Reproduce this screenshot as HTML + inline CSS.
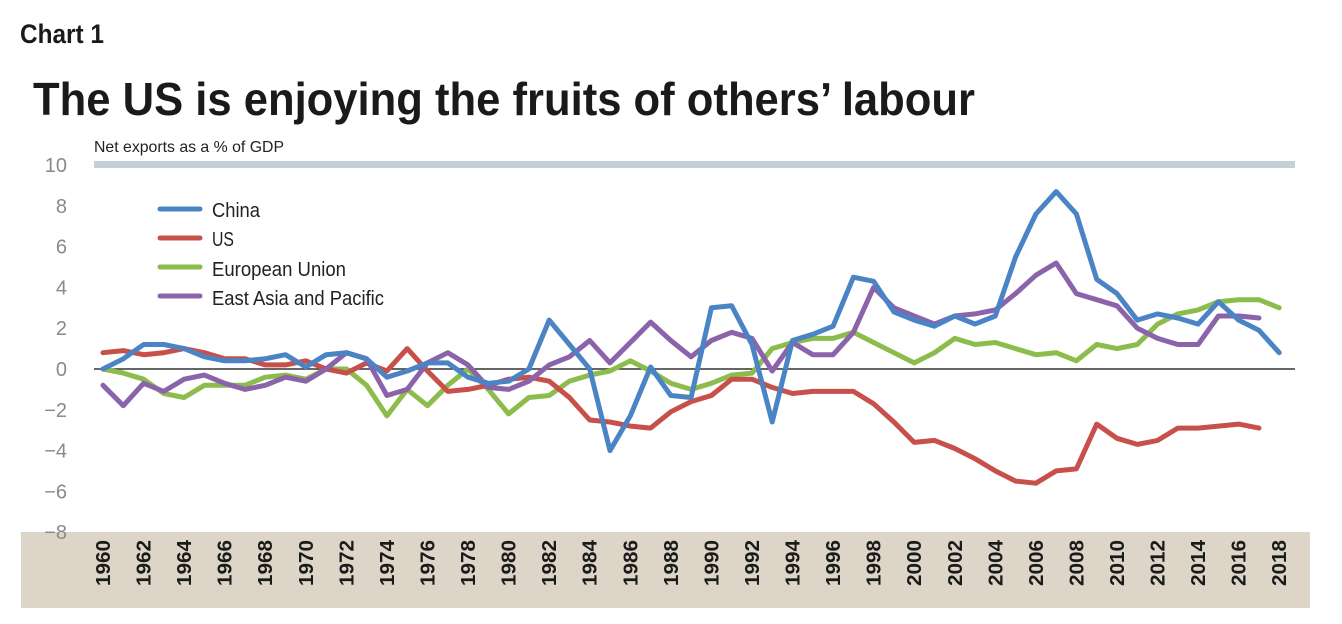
<!DOCTYPE html>
<html><head><meta charset="utf-8"><style>
html,body{margin:0;padding:0;background:#fff;}
svg{display:block;}
</style></head><body>
<svg id="c" width="1342" height="624" xmlns="http://www.w3.org/2000/svg" font-family="'Liberation Sans', sans-serif">
<text x="20" y="43" font-size="27" font-weight="bold" fill="#1a1a1a" textLength="84" lengthAdjust="spacingAndGlyphs">Chart 1</text>
<text x="33" y="115" font-size="46" font-weight="bold" fill="#1a1a1a" textLength="942" lengthAdjust="spacingAndGlyphs">The US is enjoying the fruits of others’ labour</text>
<text x="94" y="152" font-size="16" fill="#222" textLength="190" lengthAdjust="spacingAndGlyphs">Net exports as a % of GDP</text>
<rect x="94" y="161" width="1201" height="7" fill="#c3d0d8"/>
<rect x="21" y="532" width="1289" height="76" fill="#ddd5c7"/>
<line x1="94" y1="369" x2="1295" y2="369" stroke="#333" stroke-width="1.5"/>
<g id="yl" font-size="20" fill="#8a8a8a" text-anchor="end"></g>
<g id="xl" font-size="20" font-weight="bold" fill="#1a1a1a"></g>
<g id="series" fill="none" stroke-width="5" stroke-linejoin="round" stroke-linecap="round"></g>
<g font-size="20" fill="#222">
<line x1="160" y1="209" x2="200" y2="209" stroke="#4a84c4" stroke-width="5" stroke-linecap="round"/>
<text x="212" y="217" textLength="48" lengthAdjust="spacingAndGlyphs">China</text>
<line x1="160" y1="238" x2="200" y2="238" stroke="#c8504b" stroke-width="5" stroke-linecap="round"/>
<text x="212" y="246" textLength="22" lengthAdjust="spacingAndGlyphs">US</text>
<line x1="160" y1="267" x2="200" y2="267" stroke="#8cbc4c" stroke-width="5" stroke-linecap="round"/>
<text x="212" y="276" textLength="134" lengthAdjust="spacingAndGlyphs">European Union</text>
<line x1="160" y1="296" x2="200" y2="296" stroke="#8a63ab" stroke-width="5" stroke-linecap="round"/>
<text x="212" y="305" textLength="172" lengthAdjust="spacingAndGlyphs">East Asia and Pacific</text>
</g>
</svg>
<script>
(function(){
var NS="http://www.w3.org/2000/svg";
function X(yr){return 103+(yr-1960)*20.28;}
function Y(v){return 369-v*20.39;}
var yl=document.getElementById('yl');
for(var v=10;v>=-8;v-=2){var t=document.createElementNS(NS,'text');t.setAttribute('x',67);t.setAttribute('y',Y(v)+7);t.textContent=(v<0?'\u2212'+(-v):v);yl.appendChild(t);}
var xl=document.getElementById('xl');
for(var yr=1960;yr<=2018;yr+=2){var t=document.createElementNS(NS,'text');var x=X(yr)+7;t.setAttribute('transform','translate('+x+',586) rotate(-90)');t.setAttribute('textLength','46');t.setAttribute('lengthAdjust','spacingAndGlyphs');t.textContent=yr;xl.appendChild(t);}
var data={
"#8cbc4c":[0,-0.2,-0.5,-1.2,-1.4,-0.8,-0.8,-0.8,-0.4,-0.3,-0.5,0,0,-0.8,-2.3,-1.0,-1.8,-0.8,0,-1.0,-2.2,-1.4,-1.3,-0.6,-0.3,-0.1,0.4,-0.1,-0.7,-1.0,-0.7,-0.3,-0.2,1.0,1.3,1.5,1.5,1.8,1.3,0.8,0.3,0.8,1.5,1.2,1.3,1.0,0.7,0.8,0.4,1.2,1.0,1.2,2.2,2.7,2.9,3.3,3.4,3.4,3.0],
"#8a63ab":[-0.8,-1.8,-0.7,-1.1,-0.5,-0.3,-0.7,-1.0,-0.8,-0.4,-0.6,0,0.8,0.5,-1.3,-1.0,0.3,0.8,0.2,-0.9,-1.0,-0.6,0.2,0.6,1.4,0.3,1.3,2.3,1.4,0.6,1.4,1.8,1.5,-0.1,1.3,0.7,0.7,1.8,4.0,3.0,2.6,2.2,2.6,2.7,2.9,3.7,4.6,5.2,3.7,3.4,3.1,2.0,1.5,1.2,1.2,2.6,2.6,2.5],
"#c8504b":[0.8,0.9,0.7,0.8,1.0,0.8,0.5,0.5,0.2,0.2,0.4,0,-0.2,0.3,-0.1,1.0,-0.1,-1.1,-1.0,-0.8,-0.5,-0.4,-0.6,-1.4,-2.5,-2.6,-2.8,-2.9,-2.1,-1.6,-1.3,-0.5,-0.5,-0.9,-1.2,-1.1,-1.1,-1.1,-1.7,-2.6,-3.6,-3.5,-3.9,-4.4,-5.0,-5.5,-5.6,-5.0,-4.9,-2.7,-3.4,-3.7,-3.5,-2.9,-2.9,-2.8,-2.7,-2.9],
"#4a84c4":[0,0.5,1.2,1.2,1.0,0.6,0.4,0.4,0.5,0.7,0.1,0.7,0.8,0.5,-0.4,-0.1,0.3,0.3,-0.4,-0.7,-0.6,0,2.4,1.2,0,-4.0,-2.3,0.1,-1.3,-1.4,3.0,3.1,1.2,-2.6,1.4,1.7,2.1,4.5,4.3,2.8,2.4,2.1,2.6,2.2,2.6,5.5,7.6,8.7,7.6,4.4,3.7,2.4,2.7,2.5,2.2,3.3,2.4,1.9,0.8]
};
var g=document.getElementById('series');
["#8cbc4c","#c8504b","#8a63ab","#4a84c4"].forEach(function(c){var d=data[c];var p=d.map(function(v,i){return X(1960+i).toFixed(1)+','+Y(v).toFixed(1);}).join(' ');var pl=document.createElementNS(NS,'polyline');pl.setAttribute('points',p);pl.setAttribute('stroke',c);g.appendChild(pl);});
})();
</script>
</body></html>
